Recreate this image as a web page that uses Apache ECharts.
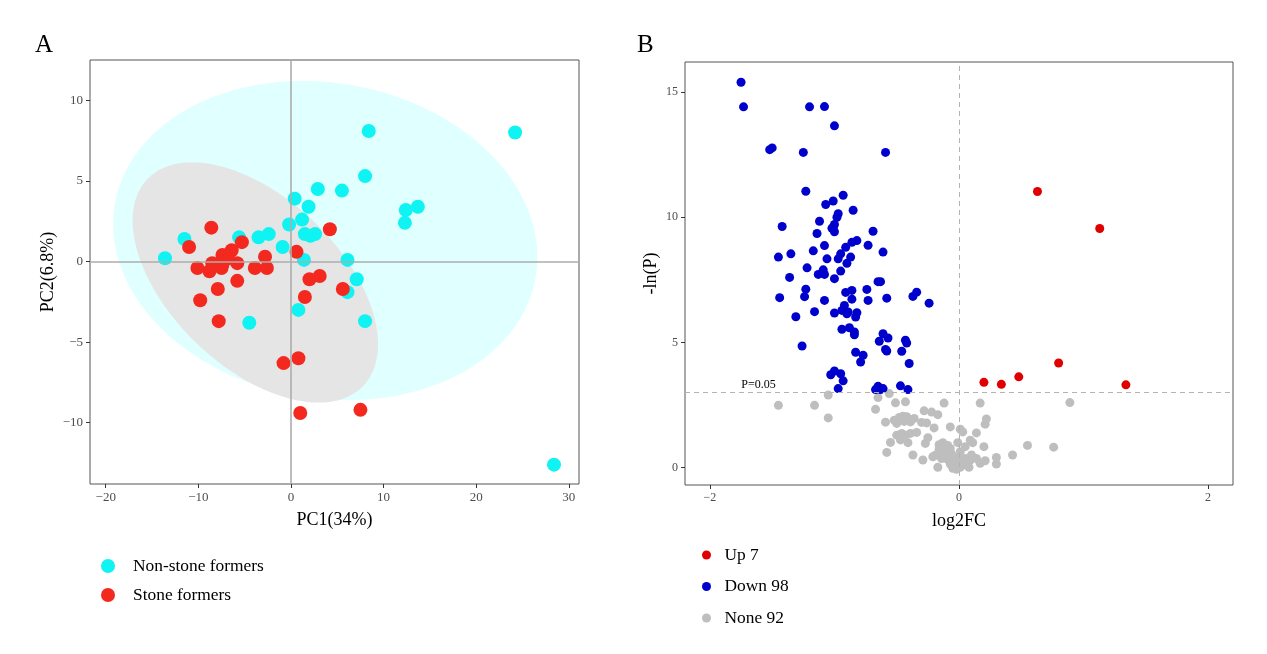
<!DOCTYPE html>
<html>
<head>
<meta charset="utf-8">
<script src="https://cdn.jsdelivr.net/npm/echarts@6/dist/echarts.min.js"></script>
<style>
html,body{margin:0;padding:0;background:#fff;}
#chart{width:1267px;height:654px;}
</style>
</head>
<body>
<div id="chart"></div>
<script>
// ---------- DATA ----------
// Panel A: PCA scores [PC1, PC2]
const nonStoneFormers = [
  [24.2,8.0],[8.4,8.1],[8.0,5.3],[5.5,4.4],[2.9,4.5],[0.4,3.9],[1.9,3.4],[13.7,3.4],
  [12.4,3.2],[12.3,2.4],[1.2,2.6],[-0.2,2.3],[1.5,1.7],[2.6,1.7],[2.1,1.6],[-2.4,1.7],
  [-3.5,1.5],[-5.6,1.5],[-11.5,1.4],[-0.9,0.9],[1.4,0.1],[-13.6,0.2],[6.1,0.1],[7.1,-1.1],
  [6.1,-1.9],[0.8,-3.0],[8.0,-3.7],[-4.5,-3.8],[28.4,-12.6]
];
const stoneFormers = [
  [-8.6,2.1],[4.2,2.0],[-11.0,0.9],[-5.3,1.2],[-6.4,0.7],[-7.4,0.4],[-6.8,0.2],[0.6,0.6],
  [-2.8,0.3],[-5.8,-0.1],[-8.5,-0.1],[-7.4,-0.2],[-10.1,-0.4],[-8.8,-0.6],[-7.5,-0.4],
  [-3.9,-0.4],[-2.6,-0.4],[-5.8,-1.2],[-7.9,-1.7],[-9.8,-2.4],[2.0,-1.1],[3.1,-0.9],
  [1.5,-2.2],[5.6,-1.7],[-7.8,-3.7],[-0.8,-6.3],[0.8,-6.0],[1.0,-9.4],[7.5,-9.2]
];
// confidence ellipses: [centerX, centerY, halfWidthX, halfHeightY, phaseDeg]
const ellipseNonStone = [3.7, 1.3, 22.9, 9.9, 96];
const ellipseStone = [-3.85, -1.3, 13.25, 7.45, 121];
const pcaXTicks = [-20,-10,0,10,20,30];
const pcaYTicks = [-10,-5,0,5,10];

// Panel B: volcano [log2FC, -ln(P)]
const upPoints = [
  [0.63,11.03],[1.13,9.55],[0.80,4.18],[0.48,3.63],[0.20,3.41],[0.34,3.33],[1.34,3.31]
];
const downPoints = [
  [-1.75,15.39],[-1.73,14.41],[-1.20,14.41],[-1.08,14.42],[-1.00,13.65],[-1.52,12.70],[-1.50,12.77],
  [-1.25,12.59],[-0.59,12.59],[-1.23,11.04],[-0.93,10.88],[-1.01,10.65],[-1.07,10.51],[-0.85,10.28],
  [-0.97,10.14],[-0.98,10.00],[-1.42,9.63],[-1.12,9.84],[-1.00,9.71],[-1.02,9.56],[-1.00,9.42],
  [-1.14,9.35],[-0.69,9.44],[-1.08,8.87],[-0.91,8.80],[-0.86,9.00],[-0.82,9.07],[-0.73,8.88],
  [-0.61,8.61],[-1.45,8.41],[-1.35,8.54],[-1.17,8.66],[-1.06,8.34],[-0.97,8.34],[-0.95,8.54],
  [-0.87,8.41],[-0.90,8.16],[-1.22,7.98],[-1.09,7.90],[-1.08,7.72],[-1.13,7.72],[-0.95,7.85],
  [-1.00,7.55],[-1.36,7.60],[-0.65,7.43],[-0.63,7.43],[-1.23,7.13],[-1.44,6.79],[-1.24,6.83],
  [-1.08,6.68],[-0.91,7.00],[-0.86,7.08],[-0.86,6.73],[-0.74,7.12],[-0.73,6.68],[-0.58,6.77],
  [-0.37,6.84],[-0.34,7.01],[-0.24,6.57],[-1.31,6.03],[-1.16,6.23],[-1.00,6.18],[-0.92,6.48],
  [-0.94,6.28],[-0.90,6.15],[-0.82,6.19],[-0.83,6.02],[-0.94,5.53],[-0.88,5.59],[-0.84,5.42],
  [-0.84,5.31],[-0.61,5.35],[-0.57,5.18],[-0.64,5.05],[-0.43,5.09],[-0.42,4.98],[-0.59,4.72],
  [-0.58,4.66],[-0.46,4.65],[-0.40,4.16],[-1.26,4.86],[-0.83,4.61],[-0.77,4.49],[-0.79,4.22],
  [-1.03,3.71],[-1.00,3.86],[-0.95,3.75],[-0.93,3.47],[-0.97,3.16],[-0.67,3.12],[-0.65,3.25],
  [-0.63,3.12],[-0.61,3.16],[-0.47,3.27],[-0.41,3.12],[-1.01,9.60],[-0.89,6.22],[-0.64,3.18]
];
const nonePoints = [
  [-1.45,2.49],[-1.16,2.49],[-1.05,2.90],[-1.05,1.99],[-0.65,2.80],[-0.67,2.33],[-0.56,2.96],
  [-0.51,2.59],[-0.43,2.63],[-0.12,2.58],[0.17,2.58],[0.89,2.60],[-0.59,1.82],[-0.52,1.90],
  [-0.45,2.06],[-0.42,2.04],[-0.50,1.77],[-0.39,1.83],[-0.45,1.92],[-0.48,2.01],[-0.28,2.27],
  [-0.22,2.22],[-0.17,2.12],[-0.30,1.81],[-0.26,1.79],[-0.20,1.59],[-0.07,1.63],[0.01,1.54],
  [0.03,1.43],[0.14,1.39],[0.22,1.95],[0.21,1.74],[-0.34,1.41],[-0.46,1.37],[-0.43,1.29],
  [-0.39,1.37],[-0.47,1.11],[-0.41,1.00],[-0.50,1.30],[-0.55,1.01],[-0.27,0.97],[-0.58,0.61],
  [-0.37,0.51],[-0.29,0.31],[-0.21,0.44],[-0.17,0.02],[-0.16,0.92],[-0.13,1.00],[-0.09,0.89],
  [-0.13,0.77],[-0.16,0.73],[-0.07,0.77],[-0.10,0.64],[-0.15,0.60],[-0.19,0.50],[-0.11,0.51],
  [-0.06,0.55],[-0.14,0.37],[-0.09,0.33],[-0.01,1.00],[0.01,0.64],[0.05,0.84],[0.09,1.10],
  [0.11,1.00],[0.10,0.51],[0.09,0.31],[-0.07,0.15],[-0.04,0.24],[-0.01,0.11],[0.01,0.02],
  [0.03,0.18],[0.06,0.11],[-0.02,-0.06],[-0.05,-0.02],[0.00,0.31],[0.05,0.37],[0.14,0.37],
  [0.20,0.84],[0.17,0.18],[0.21,0.28],[0.30,0.41],[0.30,0.15],[0.43,0.51],[0.55,0.89],
  [0.76,0.82],[-0.44,1.85],[-0.36,1.97],[-0.12,0.55],[0.02,0.22],[-0.03,0.40],[0.08,0.02],
  [-0.25,1.20]
];
const pThreshold = 3.0; // -ln(0.05)
const volXTicks = [-2,0,2];
const volYTicks = [0,5,10,15];

// ---------- CHART ----------
const SERIF = '"Liberation Serif","DejaVu Serif",serif';
const fmt = v => String(v).replace('-', '\u2212');

function ellipseRenderer(params, color) {
  return function (p, api) {
    const [cx, cy, rx, ry, ph] = params;
    const phi = ph * Math.PI / 180;
    const pts = [];
    for (let i = 0; i < 180; i++) {
      const t = i / 180 * 2 * Math.PI;
      pts.push(api.coord([cx + rx * Math.cos(t), cy + ry * Math.cos(t + phi)]));
    }
    return { type: 'polygon', shape: { points: pts }, style: { fill: color }, silent: true };
  };
}

function axisCommon(ticks, size) {
  return {
    axisLine: { show: false, onZero: false },
    splitLine: { show: false },
    axisTick: { show: true, length: 4, inside: false, customValues: ticks, lineStyle: { color: '#333', width: 1 } },
    axisLabel: { customValues: ticks, formatter: fmt, color: '#4d4d4d', fontFamily: SERIF, fontSize: size, margin: 7 },
    nameTextStyle: { fontFamily: SERIF, fontSize: 18, color: '#000' }
  };
}

const chart = echarts.init(document.getElementById('chart'), null, { renderer: 'canvas' });
chart.setOption({
  backgroundColor: '#fff',
  animation: false,
  title: [
    { text: 'A', left: 30, top: 28, textStyle: { fontFamily: SERIF, fontSize: 25, fontWeight: 'normal', color: '#000' } },
    { text: 'B', left: 632, top: 28, textStyle: { fontFamily: SERIF, fontSize: 25, fontWeight: 'normal', color: '#000' } }
  ],
  grid: [
    { left: 90, top: 60, width: 489, height: 424, show: true, borderColor: '#555', borderWidth: 1, backgroundColor: '#fff' },
    { left: 685, top: 62, width: 548, height: 423, show: true, borderColor: '#555', borderWidth: 1, backgroundColor: '#fff' }
  ],
  xAxis: [
    Object.assign(axisCommon(pcaXTicks, 13), { type: 'value', gridIndex: 0, min: -21.7, max: 31.1, name: 'PC1(34%)', nameLocation: 'middle', nameGap: 27 }),
    Object.assign(axisCommon(volXTicks, 12), { type: 'value', gridIndex: 1, min: -2.2, max: 2.2, name: 'log2FC', nameLocation: 'middle', nameGap: 27 })
  ],
  yAxis: [
    Object.assign(axisCommon(pcaYTicks, 13), { type: 'value', gridIndex: 0, min: -13.8, max: 12.5, name: 'PC2(6.8%)', nameLocation: 'middle', nameGap: 33 }),
    Object.assign(axisCommon(volYTicks, 12), { type: 'value', gridIndex: 1, min: -0.69, max: 16.2, name: '-ln(P)', nameLocation: 'middle', nameGap: 25 })
  ],
  legend: [
    {
      data: ['Non-stone formers', 'Stone formers'], orient: 'vertical', left: 96, top: 552,
      icon: 'circle', itemWidth: 40, itemHeight: 14, itemGap: 11, selectedMode: false,
      textStyle: { fontFamily: SERIF, fontSize: 17.4, color: '#000', lineHeight: 18 }
    },
    {
      data: ['Up 7', 'Down 98', 'None 92'], orient: 'vertical', left: 697, top: 541,
      icon: 'circle', itemWidth: 26, itemHeight: 9, itemGap: 13.5, selectedMode: false,
      textStyle: { fontFamily: SERIF, fontSize: 17.4, color: '#000', lineHeight: 18 }
    }
  ],
  series: [
    { type: 'custom', xAxisIndex: 0, yAxisIndex: 0, z: 1, silent: true, data: [[ellipseNonStone[0], ellipseNonStone[1]]],
      renderItem: ellipseRenderer(ellipseNonStone, '#E0FFFF') },
    { type: 'custom', xAxisIndex: 0, yAxisIndex: 0, z: 1, silent: true, data: [[ellipseStone[0], ellipseStone[1]]],
      renderItem: ellipseRenderer(ellipseStone, '#E5E5E5') },
    { type: 'scatter', xAxisIndex: 0, yAxisIndex: 0, z: 2, silent: true, symbolSize: 0, data: [[0, 0]],
      markLine: { silent: true, symbol: 'none', animation: false, label: { show: false },
        lineStyle: { color: '#adadad', width: 1.6, type: 'solid' },
        data: [{ xAxis: 0 }, { yAxis: 0 }] } },
    { name: 'Non-stone formers', type: 'scatter', xAxisIndex: 0, yAxisIndex: 0, z: 3,
      symbol: 'circle', symbolSize: 14, itemStyle: { color: '#0FF3F3', opacity: 1 }, data: nonStoneFormers },
    { name: 'Stone formers', type: 'scatter', xAxisIndex: 0, yAxisIndex: 0, z: 4,
      symbol: 'circle', symbolSize: 14, itemStyle: { color: '#F3291F', opacity: 1 }, data: stoneFormers },

    { type: 'scatter', xAxisIndex: 1, yAxisIndex: 1, z: 2, silent: true, symbolSize: 0, data: [[0, pThreshold]],
      markLine: { silent: true, symbol: 'none', animation: false, label: { show: false },
        lineStyle: { color: '#b3b3b3', width: 1, type: [5, 4] },
        data: [{ xAxis: 0 }, { yAxis: pThreshold }] },
      markPoint: { silent: true, symbol: 'circle', symbolSize: 0,
        label: { show: true, position: 'top', distance: 2, formatter: 'P=0.05', fontFamily: SERIF, fontSize: 12, color: '#000' },
        data: [{ coord: [-1.61, pThreshold] }] } },
    { name: 'None 92', type: 'scatter', xAxisIndex: 1, yAxisIndex: 1, z: 3,
      symbol: 'circle', symbolSize: 9, itemStyle: { color: '#BEBEBE', opacity: 1 }, data: nonePoints },
    { name: 'Down 98', type: 'scatter', xAxisIndex: 1, yAxisIndex: 1, z: 3,
      symbol: 'circle', symbolSize: 9, itemStyle: { color: '#0000CD', opacity: 1 }, data: downPoints },
    { name: 'Up 7', type: 'scatter', xAxisIndex: 1, yAxisIndex: 1, z: 3,
      symbol: 'circle', symbolSize: 9, itemStyle: { color: '#E00000', opacity: 1 }, data: upPoints }
  ]
});
</script>
</body>
</html>
